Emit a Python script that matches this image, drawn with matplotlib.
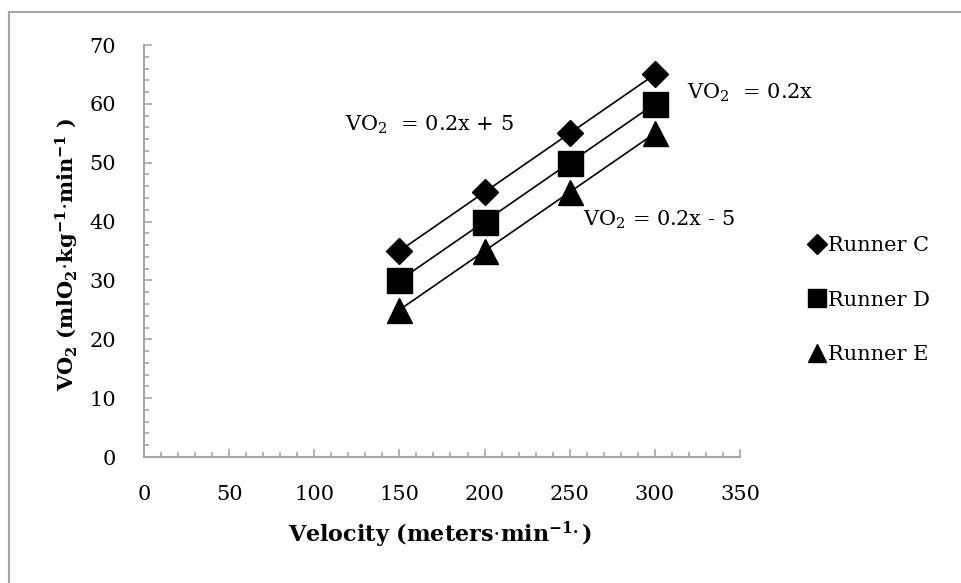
import matplotlib.pyplot as plt
from matplotlib.patches import Rectangle
from matplotlib.ticker import MultipleLocator
import numpy as np

velocity = [150, 200, 250, 300]
runner_c = [35, 45, 55, 65]
runner_d = [30, 40, 50, 60]
runner_e = [25, 35, 45, 55]

series = [
    ("Runner C", runner_c, "D", 13),
    ("Runner D", runner_d, "s", 18),
    ("Runner E", runner_e, "^", 18),
]

plt.rcParams['font.family'] = 'DejaVu Serif'
plt.rcParams['mathtext.fontset'] = 'custom'
plt.rcParams['mathtext.rm'] = 'DejaVu Serif'
plt.rcParams['mathtext.it'] = 'DejaVu Serif:italic'
plt.rcParams['mathtext.bf'] = 'DejaVu Serif:bold'

fig = plt.figure(figsize=(9.61, 5.83), dpi=100)
ax = fig.add_axes([0.1498, 0.2161, 0.6202, 0.7067])

# outer chart border (cut off at right/bottom like the reference)
fig.patches.append(Rectangle((9 / 961, -0.1), 2.0, 1 - 12 / 583 + 0.1,
                             transform=fig.transFigure, fill=False,
                             edgecolor='#a6a6a6', linewidth=1.5))

handles = []
for name, vals, mk, ms in series:
    # trendline
    k, b = np.polyfit(velocity, vals, 1)
    xs = np.array([velocity[0], velocity[-1]])
    ax.plot(xs, k * xs + b, color='black', linewidth=1.2, zorder=2)
    h, = ax.plot(velocity, vals, linestyle='none', marker=mk, markersize=ms,
                 color='black', label=name, zorder=3)
    handles.append(h)

ax.set_xlim(0, 350)
ax.set_ylim(0, 70)
ax.xaxis.set_major_locator(MultipleLocator(50))
ax.xaxis.set_minor_locator(MultipleLocator(10))
ax.yaxis.set_major_locator(MultipleLocator(10))
ax.yaxis.set_minor_locator(MultipleLocator(2))

for s in ['top', 'right']:
    ax.spines[s].set_visible(False)
for s in ['left', 'bottom']:
    ax.spines[s].set_color('#a6a6a6')
    ax.spines[s].set_linewidth(1.5)

ax.tick_params(which='both', direction='in', color='#a6a6a6', width=1.2, labelsize=15)
ax.tick_params(which='major', length=5.5)
ax.tick_params(which='minor', length=3.5)
ax.tick_params(axis='x', pad=20)
ax.tick_params(axis='y', pad=20)

fig.text(440 / 961, 1 - 535 / 583, r"Velocity (meters$\cdot$min$^\mathbf{-1.}$)",
         ha='center', va='center', fontsize=16, fontweight='bold')
fig.text(67 / 961, 1 - 254 / 583,
         r"VO$_\mathbf{2}$ (mlO$_\mathbf{2}$$\cdot$kg$^\mathbf{-1}$$\cdot$min$^\mathbf{-1}$ )",
         ha='center', va='center', rotation=90, fontsize=15, fontweight='bold')

ax.text(345 / 961, 1 - 125 / 583, r"VO$_2$  = 0.2x + 5", transform=fig.transFigure,
        ha='left', va='center', fontsize=15)
ax.text(687 / 961, 1 - 93 / 583, r"VO$_2$  = 0.2x", transform=fig.transFigure,
        ha='left', va='center', fontsize=15)
ax.text(583 / 961, 1 - 220 / 583, r"VO$_2$ = 0.2x - 5", transform=fig.transFigure,
        ha='left', va='center', fontsize=15)

fig.legend(handles=handles, loc='center left', bbox_to_anchor=(790 / 961, 1 - 300 / 583),
           frameon=False, fontsize=15, handlelength=0.8, handletextpad=0.1,
           labelspacing=1.7, markerscale=0.75)

fig.savefig('out.png', dpi=100)
